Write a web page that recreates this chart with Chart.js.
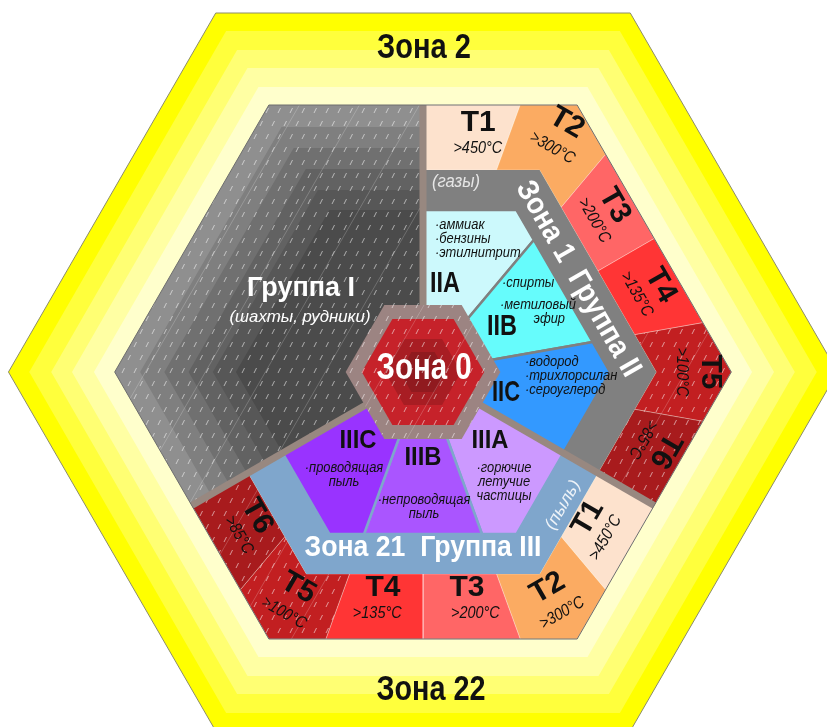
<!DOCTYPE html>
<html lang="ru">
<head>
<meta charset="utf-8">
<title>Взрывоопасные зоны</title>
<script src="https://cdn.jsdelivr.net/npm/chart.js@4.4.1/dist/chart.umd.min.js"></script>
<style>
  html, body { margin: 0; padding: 0; background: #ffffff; }
  canvas { display: block; }
</style>
</head>
<body>
<canvas id="zonesChart" width="827" height="727"></canvas>
<script>
// categories and labels
const groups = ['Группа I', 'Группа II', 'Группа III'];
const groupNotes = ['(шахты, рудники)', '(газы)', '(пыль)'];
const zones = ['Зона 0', 'Зона 1', 'Зона 2', 'Зона 21', 'Зона 22'];
const tClasses = ['T1', 'T2', 'T3', 'T4', 'T5', 'T6'];
const tTemps = ['>450°C', '>300°C', '>200°C', '>135°C', '>100°C', '>85°C'];
const gasSubgroups = ['IIA', 'IIB', 'IIC'];
const gasExamples = [
  ['·аммиак', '·бензины', '·этилнитрит'],
  ['·спирты', '·метиловый', 'эфир'],
  ['·водород', '·трихлорсилан', '·сероуглерод']
];
const dustSubgroups = ['IIIA', 'IIIB', 'IIIC'];
const dustExamples = [
  ['·горючие', 'летучие', 'частицы'],
  ['·непроводящая', 'пыль'],
  ['·проводящая', 'пыль']
];

// geometry (apothems of nested hexagons, px)
const W = 827, H = 727;
const CX = 423, CY = 372;
const RAD = Math.PI / 180;
const yellowSteps = [359, 341, 322, 304, 285];
const A_HEX = 267, A_T = 202, A_BAND = 162, A_RING = 67;
const greySteps = [267, 245, 224, 203, 182, 162];
const redSteps = [53, 33, 20];

// colours
const yellowColors = ['#ffff00', '#ffff3c', '#ffff73', '#ffffa3', '#ffffcc'];
const greyColors = ['#8f8f8f', '#7f7f7f', '#707070', '#626262', '#575757', '#4b4b4b'];
const tColors = ['#fde2cd', '#fbab62', '#ff6666', '#ff3535', '#c21f21', '#a81b1d'];
const gasColors = ['#ccf9fc', '#66fcfc', '#3399ff'];
const dustColors = ['#cc99ff', '#aa55ff', '#9933ff'];
const redColors = ['#c6222a', '#a81d23', '#901a1f'];
const ringColor = '#9c8482';
const dividerColor = '#988880';
const zone1Color = '#808080';
const zone21Color = '#7fa6cc';

function nearestNormal(deg) {
    return 30 + 60 * Math.round((deg - 30) / 60);
}

// point on a flat-top hexagon with apothem a, at polar angle deg (y down)
function hexPt(a, deg) {
    const n = nearestNormal(deg);
    const r = a / Math.cos((deg - n) * RAD);
    return { x: r * Math.cos(deg * RAD), y: r * Math.sin(deg * RAD) };
}

function hexagon(a) {
    const pts = [];
    for (let t = 0; t <= 360; t += 60) pts.push(hexPt(a, t));
    return pts;
}

function sector(aIn, aOut, t0, t1) {
    const angs = [t0];
    for (let c = Math.ceil(t0 / 60) * 60; c < t1; c += 60) {
        if (c > t0) angs.push(c);
    }
    angs.push(t1);
    const pts = angs.map(t => hexPt(aOut, t));
    if (aIn > 0) {
        angs.slice().reverse().forEach(t => pts.push(hexPt(aIn, t)));
    } else {
        pts.push({ x: 0, y: 0 });
    }
    pts.push(pts[0]);
    return pts;
}

function edgeRot(deg, outward) {
    let n = nearestNormal(deg);
    if (Math.abs(deg - n) > 28) n = deg;
    return outward ? n + 90 : n - 90;
}

function makeStreaks() {
    const c = document.createElement('canvas');
    c.width = 60; c.height = 104;
    const g = c.getContext('2d');
    g.strokeStyle = 'rgba(255,255,255,0.55)';
    g.lineWidth = 1;
    for (let row = 0; row < 8; row++) {
        for (let col = 0; col < 5; col++) {
            const x = col * 12 + (row % 2) * 6 + 2;
            const y = row * 13 + 9;
            g.beginPath();
            g.moveTo(x, y);
            g.lineTo(x + 2.5, y - 5);
            g.stroke();
        }
    }
    g.strokeStyle = 'rgba(255,255,255,0.2)';
    g.beginPath();
    g.moveTo(0, 104);
    g.lineTo(60, 0);
    g.stroke();
    return g.createPattern(c, 'repeat');
}
const streaks = makeStreaks();

const datasets = [];
function shape(points, color, border, width) {
    datasets.push({
        data: points,
        fill: 'shape',
        backgroundColor: color,
        borderColor: border || 'rgba(0,0,0,0)',
        borderWidth: width || 0,
        pointRadius: 0,
        order: -datasets.length
    });
}
function outline(points, border, width) {
    datasets.push({
        data: points,
        fill: false,
        borderColor: border,
        borderWidth: width,
        borderCapStyle: 'butt',
        pointRadius: 0,
        order: -datasets.length
    });
}

// Zone 2 / Zone 22: yellow rings
yellowSteps.forEach((a, i) => shape(hexagon(a), yellowColors[i], i === 0 ? '#8c8c6a' : null, 1));

// Group I: grey steps
greySteps.forEach((a, i) => shape(sector(0, a, 150, 270), greyColors[i]));
shape(sector(0, A_HEX, 150, 270), streaks);

// Group II (gases) and Group III (dust)
const tGroups = [
    { start: -90, outward: true, classA: 249, tempA: 224, nudge: [2.5, 0, -1, 0, 0, -2] },
    { start: 30, outward: false, classA: 216, tempA: 241, nudge: [1.5, 0, -1.5, 0.5, 0, -1] }
];
tGroups.forEach(g => {
    tClasses.forEach((t, i) => {
        shape(sector(A_T, A_HEX, g.start + 20 * i, g.start + 20 * (i + 1)), tColors[i], 'rgba(255,255,255,0.3)', 1);
        if (i >= 4) shape(sector(A_T, A_HEX, g.start + 20 * i, g.start + 20 * (i + 1)), streaks);
    });
});
shape(sector(0, A_T, -90, 30), zone1Color);
gasSubgroups.forEach((s, j) => shape(sector(0, A_BAND, -90 + 40 * j, -50 + 40 * j), gasColors[j], zone1Color, 2.5));
shape(sector(0, A_T, 30, 150), zone21Color);
dustSubgroups.forEach((s, j) => shape(sector(0, A_BAND, 30 + 40 * j, 70 + 40 * j), dustColors[j], zone21Color, 2.5));

// dividers between groups
[-90, 30, 150].forEach(t => outline([hexPt(A_RING - 4, t), hexPt(A_HEX, t)], dividerColor, 7));
outline(hexagon(A_HEX), '#6e6e6e', 1);

// Zone 0
shape(hexagon(A_RING), ringColor);
redSteps.forEach((a, i) => shape(hexagon(a), redColors[i]));
shape(hexagon(A_RING), streaks);

// text
const labels = [];
function addLabel(text, pos, o) {
    labels.push(Object.assign({ text: text, x: pos.x, y: pos.y }, o));
}
const WHITE = '#ffffff', INK = '#111111';

addLabel(zones[2], { x: 1, y: -324 }, { size: 35, bold: true, width: 94, color: INK });
addLabel(zones[4], { x: 8, y: 318 }, { size: 35, bold: true, width: 109, color: INK });
addLabel(groups[0], { x: -122, y: -84 }, { size: 28, bold: true, width: 108, color: WHITE });
addLabel(groupNotes[0], { x: -123, y: -55 }, { size: 17, italic: true, width: 141, color: WHITE });
addLabel(zones[0], { x: 1, y: -3 }, { size: 37, bold: true, width: 95, color: WHITE });
addLabel(zones[1] + '  ' + groups[1], { x: 155, y: -93 }, { size: 30, bold: true, width: 221, rot: 60, color: WHITE });
addLabel(groupNotes[1], { x: 9, y: -190 }, { size: 19, italic: true, width: 48, align: 'left', color: '#e6e6e6' });
addLabel(zones[3] + '  ' + groups[2], { x: 0, y: 176 }, { size: 30, bold: true, width: 237, color: WHITE });
addLabel(groupNotes[2], { x: 140, y: 133 }, { size: 17, italic: true, width: 54, rot: -60, color: '#eef3f8' });

const gasPos = [{ x: 22, y: -88 }, { x: 79, y: -45 }, { x: 83, y: 21 }];
gasSubgroups.forEach((s, j) => addLabel(s, gasPos[j], { size: 30, bold: true, width: j === 2 ? 28 : 30, color: INK }));
const gasLines = [
    [{ x: 12, y: -147 }, { x: 12, y: -133 }, { x: 12, y: -119 }],
    [{ x: 79, y: -89 }, { x: 77, y: -67 }, { x: 142, y: -53 }],
    [{ x: 102, y: -10 }, { x: 102, y: 4 }, { x: 102, y: 18 }]
];
gasExamples.forEach((lines, j) => lines.forEach((t, k) => {
    addLabel(t, gasLines[j][k], { size: 14, italic: true, sx: 0.92, align: (j === 1 && k === 2) ? 'right' : 'left', color: INK });
}));

const dustPos = [{ x: 67, y: 69 }, { x: 0, y: 86 }, { x: -65, y: 69 }];
dustSubgroups.forEach((s, j) => addLabel(s, dustPos[j], { size: 25, bold: true, width: 37, color: INK }));
const dustCentres = [81, 1, -79];
dustExamples.forEach((lines, j) => lines.forEach((t, k) => {
    const top = j === 1 ? 128 : 96;
    addLabel(t, { x: dustCentres[j], y: top + 14 * k }, { size: 14, italic: true, sx: 0.92, color: INK });
}));

tGroups.forEach(g => {
    tClasses.forEach((t, i) => {
        const mid = g.start + 20 * i + 10;
        const rot = edgeRot(mid, g.outward);
        addLabel(t, hexPt(g.classA, mid + g.nudge[i]), { size: 30, bold: true, rot: rot, color: INK });
        addLabel(tTemps[i], hexPt(g.tempA, mid + g.nudge[i] * 1.5), { size: 17, italic: true, sx: 0.85, rot: rot, color: INK });
    });
});

const labelPlugin = {
    id: 'hexLabels',
    afterDatasetsDraw(chart) {
        const ctx = chart.ctx;
        const xs = chart.scales.x, ys = chart.scales.y;
        labels.forEach(l => {
            ctx.save();
            ctx.translate(xs.getPixelForValue(l.x), ys.getPixelForValue(l.y));
            ctx.rotate((l.rot || 0) * RAD);
            ctx.font = (l.italic ? 'italic ' : '') + (l.bold ? 'bold ' : '') + l.size + "px 'Liberation Sans', Arial, sans-serif";
            let sx = l.sx || 1;
            if (l.width) sx = l.width / ctx.measureText(l.text).width;
            ctx.scale(sx, 1);
            ctx.textAlign = l.align || 'center';
            ctx.textBaseline = 'middle';
            ctx.fillStyle = l.color;
            ctx.fillText(l.text, 0, 0);
            ctx.restore();
        });
    }
};

new Chart(document.getElementById('zonesChart'), {
    type: 'line',
    data: { datasets: datasets },
    options: {
        responsive: false,
        animation: false,
        events: [],
        layout: { padding: 0 },
        elements: { line: { tension: 0 }, point: { radius: 0 } },
        plugins: {
            legend: { display: false },
            tooltip: { enabled: false },
            title: { display: false }
        },
        scales: {
            x: { type: 'linear', display: false, min: -CX, max: W - CX },
            y: { type: 'linear', display: false, min: -CY, max: H - CY, reverse: true }
        }
    },
    plugins: [labelPlugin]
});
</script>
</body>
</html>
